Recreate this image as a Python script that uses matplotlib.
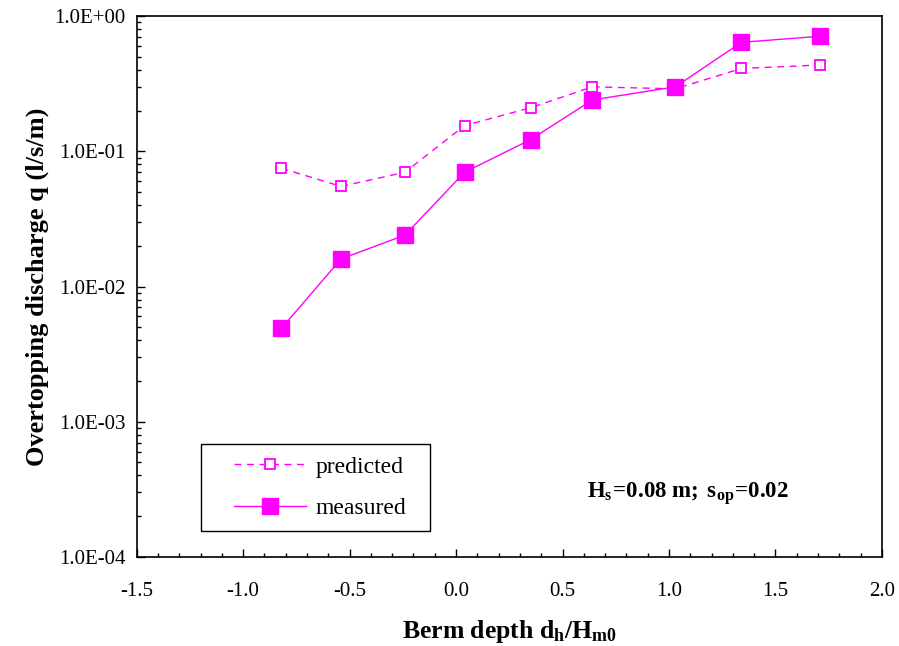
import matplotlib
matplotlib.use("Agg")
import matplotlib.pyplot as plt
import numpy as np
from matplotlib.patches import Rectangle
from matplotlib.ticker import LogLocator, MultipleLocator, NullFormatter, FuncFormatter

plt.rcParams["font.family"] = ["Liberation Serif", "DejaVu Serif"]
plt.rcParams["mathtext.fontset"] = "custom"
plt.rcParams["mathtext.rm"] = "Liberation Serif"
plt.rcParams["mathtext.it"] = "Liberation Serif:italic"
plt.rcParams["mathtext.bf"] = "Liberation Serif:bold"

# berm depth d_h/H_m0 and overtopping discharge (l/s/m)
berm_depth = [-0.82, -0.54, -0.24, 0.04, 0.35, 0.64, 1.03, 1.34, 1.71]
q_predicted = [0.075, 0.055, 0.070, 0.155, 0.21, 0.30, 0.29, 0.41, 0.435]
q_measured = [0.0049, 0.016, 0.024, 0.070, 0.122, 0.24, 0.30, 0.64, 0.71]

MAGENTA = "#ff00ff"

fig = plt.figure(figsize=(8.99, 6.46), dpi=100)
ax = fig.add_axes([0.152, 0.138, 0.829, 0.837])

ax.plot(berm_depth, q_predicted, color=MAGENTA, ls=(0, (5, 4)), lw=1.0,
        marker="s", ms=7, mfc="white", mec=MAGENTA, mew=1.3, label="predicted")
ax.plot(berm_depth, q_measured, color=MAGENTA, ls="-", lw=1.0,
        marker="s", ms=12, mfc=MAGENTA, mec=MAGENTA, label="measured")

ax.set_yscale("log")
ax.set_xlim(-1.5, 2.0)
ax.set_ylim(1e-4, 1e0)

ax.xaxis.set_major_locator(MultipleLocator(0.5))
ax.xaxis.set_minor_locator(MultipleLocator(0.1))
ax.xaxis.set_major_formatter(FuncFormatter(lambda v, p: f"{v:.1f}"))
ax.yaxis.set_major_locator(LogLocator(base=10, numticks=10))
ax.yaxis.set_minor_locator(LogLocator(base=10, subs=np.arange(2, 10), numticks=20))
ax.yaxis.set_minor_formatter(NullFormatter())
ax.yaxis.set_major_formatter(FuncFormatter(lambda v, p: f"{v:.1E}"))

ax.tick_params(which="both", direction="in", top=False, right=False, labelsize=15, width=1.0)
ax.tick_params(which="major", length=6)
ax.tick_params(which="minor", length=3)
ax.tick_params(axis="x", which="major", pad=18)
ax.tick_params(axis="y", which="major", pad=8)
for s in ax.spines.values():
    s.set_linewidth(1.2)

ax.set_xlabel(r"Berm depth d$_\mathbf{h}$/H$_\mathbf{m0}$", fontsize=18.5, fontweight="bold", labelpad=12)
ax.set_ylabel("Overtopping discharge q (l/s/m)", fontsize=19, fontweight="bold", labelpad=4)

ax.text(0.739, 0.117, r"$\mathbf{H_s\!=\!0.08\ m;\ s_{op}\!=\!0.02}$", transform=ax.transAxes,
        ha="center", va="center", fontsize=16.5)

# legend entries without frame, boxed by a separate rectangle with wider side margins
ax.legend(loc="center left", bbox_to_anchor=(0.112, 0.128), fontsize=17,
          frameon=False, handlelength=3.05, borderpad=0.6, labelspacing=0.85,
          handletextpad=0.4, borderaxespad=0)
ax.add_patch(Rectangle((0.086, 0.048), 0.307, 0.161, transform=ax.transAxes,
                       fill=False, edgecolor="black", lw=1.0, zorder=5))

fig.savefig("out.png", dpi=100)
